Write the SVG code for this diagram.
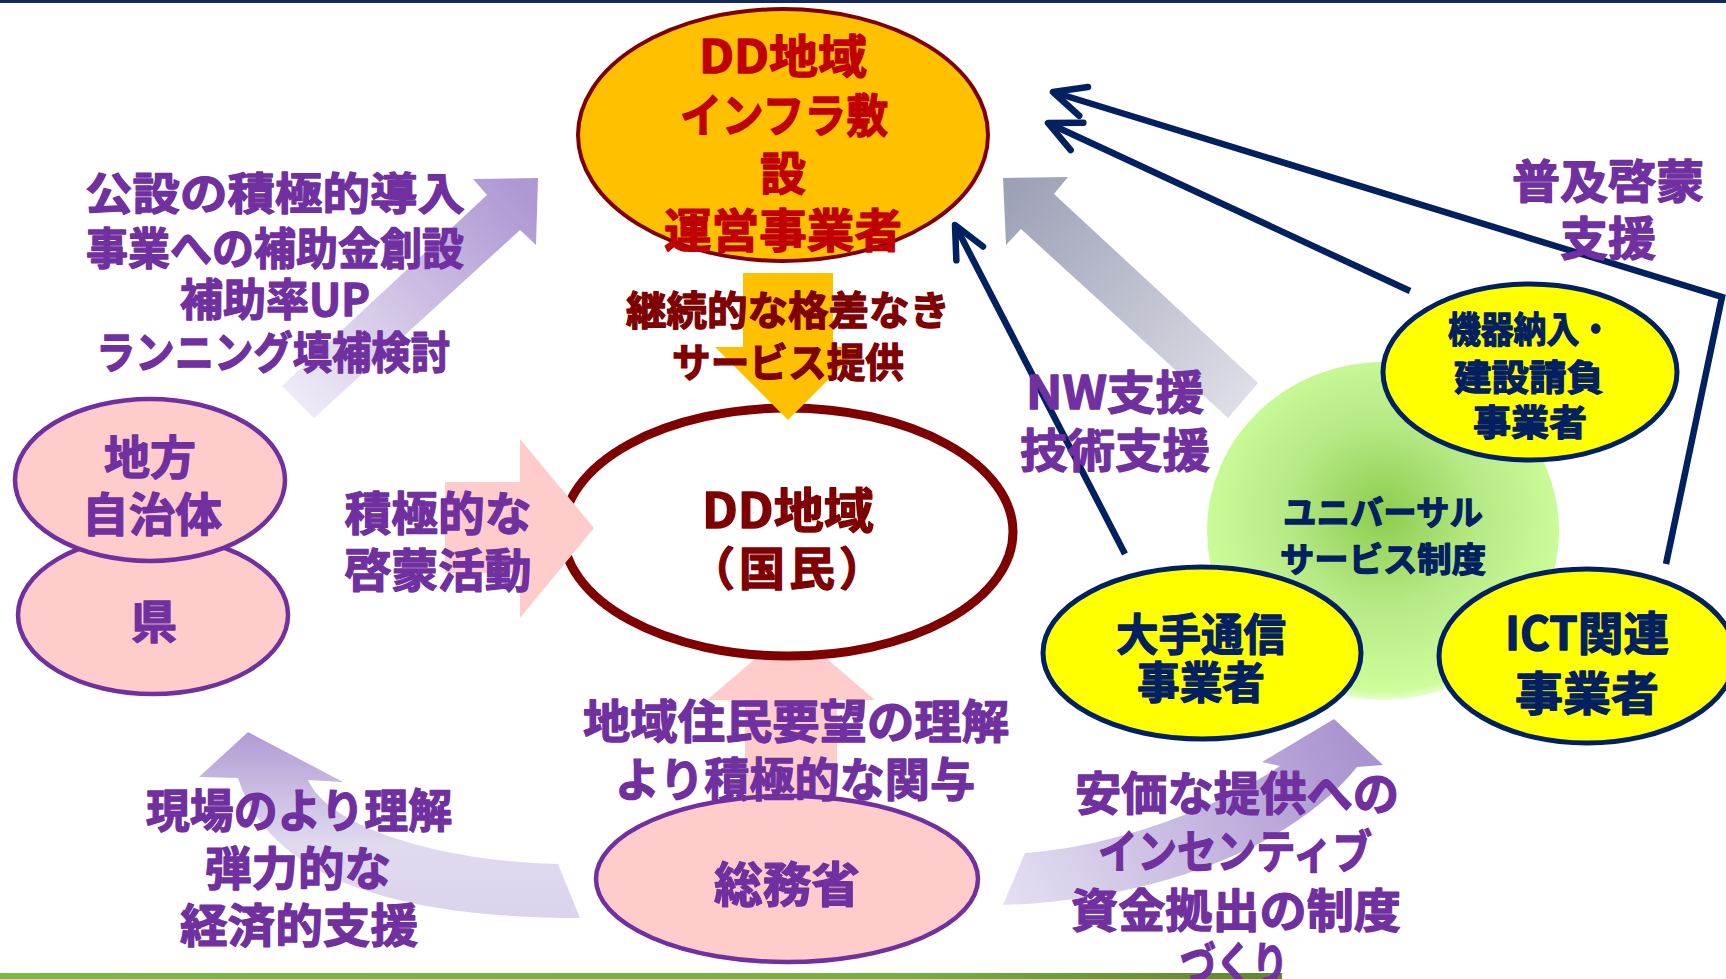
<svg xmlns="http://www.w3.org/2000/svg" width="1726" height="979" viewBox="0 0 1726 979">
<defs>
<style>
.t{font-family:"Noto Sans CJK JP","Noto Sans CJK SC",sans-serif;font-weight:700;text-anchor:middle;dominant-baseline:central;stroke-width:1.3;stroke-linejoin:round}
.pu{fill:#7030A0;stroke:#7030A0}
.rd{fill:#C00000;stroke:#C00000}
.mr{fill:#7F0000;stroke:#7F0000}
.nv{fill:#002060;stroke:#002060}
.pinkNode{fill:#FFCCCC;stroke:#7030A0;stroke-width:4.5}
.yelNode{fill:#FFFF00;stroke:#002060;stroke-width:5}
.navyLine{fill:none;stroke:#002060;stroke-width:6.5;stroke-linejoin:miter}
.pinkArrow{fill:#FFCCCC}
</style>
<linearGradient id="gBar" x1="0" y1="0" x2="1" y2="0">
<stop offset="0" stop-color="#7DB83F"/><stop offset="0.7" stop-color="#77B03B"/><stop offset="1" stop-color="#5A8A2B"/>
</linearGradient>
<linearGradient id="gPurpUp" gradientUnits="userSpaceOnUse" x1="298" y1="402" x2="525" y2="195">
<stop offset="0" stop-color="#EEEAF6"/><stop offset="1" stop-color="#AE98D2"/>
</linearGradient>
<linearGradient id="gGray" gradientUnits="userSpaceOnUse" x1="1010" y1="190" x2="1245" y2="400">
<stop offset="0" stop-color="#9DA1B6"/><stop offset="1" stop-color="#DDDEE6"/>
</linearGradient>
<linearGradient id="gCurveL" gradientUnits="userSpaceOnUse" x1="0" y1="732" x2="0" y2="918">
<stop offset="0" stop-color="#B09BD3"/><stop offset="0.6" stop-color="#E0DAEF"/><stop offset="1" stop-color="#DCD3EC"/>
</linearGradient>
<linearGradient id="gCurveR" gradientUnits="userSpaceOnUse" x1="1010" y1="900" x2="1345" y2="725">
<stop offset="0" stop-color="#E4DEF1"/><stop offset="1" stop-color="#AA94D0"/>
</linearGradient>
<radialGradient id="gGreen" cx="0.5" cy="0.45" r="0.55">
<stop offset="0" stop-color="#8ECC4E"/><stop offset="0.5" stop-color="#B6EA86"/><stop offset="0.95" stop-color="#CCFD9A"/><stop offset="1" stop-color="#D4FFAA" stop-opacity="0.6"/>
</radialGradient>
<marker id="vhead" markerUnits="userSpaceOnUse" viewBox="-45 -40 60 80" markerWidth="60" markerHeight="80" refX="0" refY="0" orient="auto" overflow="visible">
<path d="M-32,-15 L0,0 L-32,15" fill="none" stroke="#002060" stroke-width="6.5" stroke-linecap="round" stroke-linejoin="round"/>
</marker>
</defs>

<rect width="1726" height="979" fill="#FFFFFF"/>
<rect x="0" y="0" width="1726" height="3" fill="#13285E"/>
<rect x="0" y="973" width="1282" height="6" fill="url(#gBar)"/>

<g id="connectors-back">
<polygon class="pinkArrow" points="745,802 745,700 707,700 791,628 875,700 837,700 837,802"/>
<polygon fill="url(#gPurpUp)" points="314,418 520,230 536,245 538,178 473,179 487,195 282,386"/>
<polygon fill="url(#gGray)" points="1258,383 1054,194 1068,177 1003,178 1006,245 1021,229 1228,418"/>
<path fill="url(#gCurveL)" d="M580,918 C400,918 270,880 238,778 L199,777 L248,732 L343,782 L308,780 C330,830 450,862 558,864 Z"/>
<path fill="url(#gCurveR)" d="M1003,905 C1150,900 1290,850 1357,767 L1383,765 L1334,719 L1262,762 L1280,766 C1230,800 1130,845 1025,853 Z"/>
</g>

<g id="node-operator">
<ellipse cx="783" cy="135" rx="205" ry="126" fill="#FFC000" stroke="#7F0000" stroke-width="4"/>
<text class="t rd" x="783" y="53" font-size="46" textLength="168" lengthAdjust="spacingAndGlyphs">DD地域</text>
<text class="t rd" x="784" y="112" font-size="46" textLength="208" lengthAdjust="spacingAndGlyphs">インフラ敷</text>
<text class="t rd" x="783" y="170" font-size="46">設</text>
<text class="t rd" x="783" y="227" font-size="46" textLength="238" lengthAdjust="spacingAndGlyphs">運営事業者</text>
</g>

<g id="node-citizens">
<ellipse cx="788" cy="532" rx="225" ry="124" fill="#FFFFFF" stroke="#7F0000" stroke-width="9"/>
<text class="t mr" x="788" y="507" font-size="48" textLength="172" lengthAdjust="spacingAndGlyphs">DD地域</text>
<text class="t mr" x="787" y="565" font-size="46" textLength="196" lengthAdjust="spacing">（国民）</text>
</g>

<g id="node-prefecture">
<ellipse class="pinkNode" cx="153" cy="615" rx="135" ry="79"/>
<text class="t pu" x="154" y="618" font-size="46">県</text>
</g>

<g id="node-local">
<ellipse class="pinkNode" cx="150" cy="480" rx="135" ry="81"/>
<text class="t pu" x="150" y="454" font-size="46">地方</text>
<text class="t pu" x="152" y="511" font-size="46" textLength="140" lengthAdjust="spacingAndGlyphs">自治体</text>
</g>

<g id="node-mic">
<ellipse class="pinkNode" cx="787" cy="879" rx="191" ry="83"/>
<text class="t pu" x="787" y="881" font-size="48" textLength="146" lengthAdjust="spacingAndGlyphs">総務省</text>
</g>

<g id="node-universal">
<ellipse cx="1383" cy="531" rx="176" ry="169" fill="url(#gGreen)"/>
<text class="t nv" x="1383" y="510" font-size="34" textLength="200" lengthAdjust="spacingAndGlyphs">ユニバーサル</text>
<text class="t nv" x="1383" y="557" font-size="34" textLength="206" lengthAdjust="spacingAndGlyphs">サービス制度</text>
</g>

<g id="node-equipment">
<ellipse class="yelNode" cx="1530" cy="372" rx="147" ry="88"/>
<text class="t nv" x="1530" y="327" font-size="36" textLength="164" lengthAdjust="spacingAndGlyphs">機器納入・</text>
<text class="t nv" x="1529" y="375" font-size="36" textLength="150" lengthAdjust="spacingAndGlyphs">建設請負</text>
<text class="t nv" x="1530" y="420" font-size="36" textLength="114" lengthAdjust="spacingAndGlyphs">事業者</text>
</g>

<g id="node-carrier">
<ellipse class="yelNode" cx="1202" cy="653" rx="159" ry="86"/>
<text class="t nv" x="1201" y="632" font-size="44" textLength="170" lengthAdjust="spacingAndGlyphs">大手通信</text>
<text class="t nv" x="1201" y="680" font-size="44" textLength="128" lengthAdjust="spacingAndGlyphs">事業者</text>
</g>

<g id="node-ict">
<ellipse class="yelNode" cx="1587" cy="656" rx="148" ry="87"/>
<text class="t nv" x="1587" y="630" font-size="46" textLength="164" lengthAdjust="spacingAndGlyphs">ICT関連</text>
<text class="t nv" x="1587" y="690" font-size="46" textLength="144" lengthAdjust="spacingAndGlyphs">事業者</text>
</g>

<g id="connectors">
<polygon fill="#FFC000" points="743,273 833,273 833,347 861,347 788,420 715,347 743,347"/>
<polygon class="pinkArrow" points="445,482 520,482 520,439 594,528 520,618 520,573 445,573"/>
<path class="navyLine" d="M1125,554 L955,225" marker-end="url(#vhead)"/>
<path class="navyLine" d="M1410,291 L1048,123" marker-end="url(#vhead)"/>
<path class="navyLine" d="M1666,564 L1722,297 L1053,92" marker-end="url(#vhead)"/>
</g>

<g id="labels">
<text class="t mr" x="788" y="308" font-size="40" textLength="324" lengthAdjust="spacingAndGlyphs">継続的な格差なき</text>
<text class="t mr" x="788" y="360" font-size="40" textLength="232" lengthAdjust="spacingAndGlyphs">サービス提供</text>
<text class="t pu" x="275" y="191" font-size="44" textLength="380" lengthAdjust="spacingAndGlyphs">公設の積極的導入</text>
<text class="t pu" x="275" y="246" font-size="44" textLength="378" lengthAdjust="spacingAndGlyphs">事業への補助金創設</text>
<text class="t pu" x="275" y="297" font-size="44" textLength="190" lengthAdjust="spacingAndGlyphs">補助率UP</text>
<text class="t pu" x="273" y="350" font-size="44" textLength="354" lengthAdjust="spacingAndGlyphs">ランニング填補検討</text>
<text class="t pu" x="438" y="510" font-size="46" textLength="187" lengthAdjust="spacingAndGlyphs">積極的な</text>
<text class="t pu" x="438" y="567" font-size="46" textLength="187" lengthAdjust="spacingAndGlyphs">啓蒙活動</text>
<text class="t pu" x="796" y="718" font-size="46" textLength="426" lengthAdjust="spacingAndGlyphs">地域住民要望の理解</text>
<text class="t pu" x="795" y="776" font-size="46" textLength="360" lengthAdjust="spacingAndGlyphs">より積極的な関与</text>
<text class="t pu" x="299" y="807" font-size="46" textLength="306" lengthAdjust="spacingAndGlyphs">現場のより理解</text>
<text class="t pu" x="298" y="865" font-size="46" textLength="186" lengthAdjust="spacingAndGlyphs">弾力的な</text>
<text class="t pu" x="299" y="922" font-size="46" textLength="238" lengthAdjust="spacingAndGlyphs">経済的支援</text>
<text class="t pu" x="1237" y="790" font-size="46" textLength="324" lengthAdjust="spacingAndGlyphs">安価な提供への</text>
<text class="t pu" x="1235" y="848" font-size="46" textLength="274" lengthAdjust="spacingAndGlyphs">インセンティブ</text>
<text class="t pu" x="1236" y="907" font-size="46" textLength="330" lengthAdjust="spacingAndGlyphs">資金拠出の制度</text>
<text class="t pu" x="1234" y="960" font-size="46" textLength="108" lengthAdjust="spacingAndGlyphs">づくり</text>
<text class="t pu" x="1115" y="389" font-size="46" textLength="178" lengthAdjust="spacingAndGlyphs">NW支援</text>
<text class="t pu" x="1115" y="447" font-size="46" textLength="190" lengthAdjust="spacingAndGlyphs">技術支援</text>
<text class="t pu" x="1608" y="178" font-size="46" textLength="192" lengthAdjust="spacingAndGlyphs">普及啓蒙</text>
<text class="t pu" x="1608" y="235" font-size="46" textLength="96" lengthAdjust="spacingAndGlyphs">支援</text>
</g>
</svg>
